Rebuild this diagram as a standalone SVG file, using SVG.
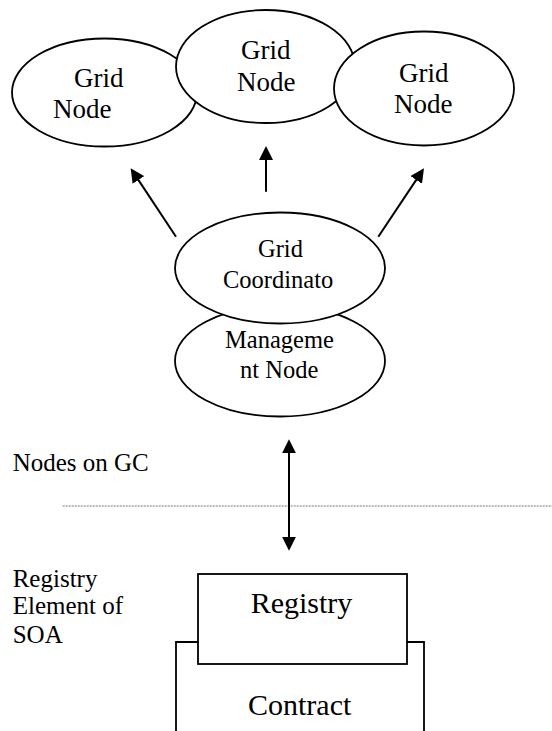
<svg xmlns="http://www.w3.org/2000/svg" width="552" height="731" viewBox="0 0 552 731">
<style>
  .shape { fill: #fff; stroke: #000; stroke-width: 1.8; }
  text { font-family: 'Liberation Serif', 'DejaVu Serif', serif; fill: #000; }
  .big { font-size: 27px; }
  .mid { font-size: 24.5px; }
  .lbl { font-size: 25px; }
  .box { font-size: 30px; }
  .conn { stroke: #000; stroke-width: 2; fill: none; }
</style>
<defs>
  <marker id="ah" viewBox="0 0 14 14" refX="4" refY="7" markerWidth="14" markerHeight="14" markerUnits="userSpaceOnUse" orient="auto-start-reverse">
    <path d="M0,0 L14,7 L0,14 z" fill="#000"/>
  </marker>
</defs>
<rect width="552" height="731" fill="#fff"/>

<g id="grid-node-left">
  <ellipse class="shape" cx="104.5" cy="92.5" rx="92.5" ry="54"/>
  <text class="big" x="74" y="86.7">Grid</text>
  <text class="big" x="53" y="118">Node</text>
</g>
<g id="grid-node-middle">
  <ellipse class="shape" cx="265.5" cy="66.5" rx="89.5" ry="56.5"/>
  <text class="big" x="241" y="59.3">Grid</text>
  <text class="big" x="237" y="90.7">Node</text>
</g>
<g id="grid-node-right">
  <ellipse class="shape" cx="424" cy="88.5" rx="90" ry="57"/>
  <text class="big" x="399" y="81.7">Grid</text>
  <text class="big" x="394" y="113">Node</text>
</g>

<g id="management-node">
  <ellipse class="shape" cx="280" cy="361" rx="105" ry="55.5"/>
  <text class="mid" x="225" y="348.3">Manageme</text>
  <text class="mid" x="240" y="378.3">nt Node</text>
</g>
<g id="grid-coordinator">
  <ellipse class="shape" cx="280" cy="268" rx="105" ry="55.5"/>
  <text class="mid" x="258" y="257">Grid</text>
  <text class="mid" x="223" y="288.3">Coordinato</text>
</g>

<g id="contract">
  <path class="conn" d="M176,731 V642 H424 V731" style="stroke-width:1.8"/>
  <text class="box" x="248" y="715">Contract</text>
</g>
<g id="registry">
  <rect class="shape" x="198" y="574" width="209" height="90"/>
  <text class="box" x="250.7" y="613.3">Registry</text>
</g>

<g id="labels">
  <text class="lbl" x="12.7" y="471">Nodes on GC</text>
  <text class="lbl" x="12.7" y="586.7">Registry</text>
  <text class="lbl" x="12.7" y="614">Element of</text>
  <text class="lbl" x="12.7" y="643.3">SOA</text>
  <line x1="62.7" y1="506" x2="552" y2="506" stroke="#555" stroke-width="0.8" stroke-dasharray="2,1"/>
</g>

<g id="connectors">
  <line class="conn" x1="266" y1="191.7" x2="266" y2="156" marker-end="url(#ah)"/>
  <line class="conn" x1="176" y1="236.7" x2="136.2" y2="176.6" marker-end="url(#ah)"/>
  <line class="conn" x1="378.3" y1="236.7" x2="418.4" y2="176.6" marker-end="url(#ah)"/>
  <line class="conn" x1="289" y1="449.3" x2="289" y2="540.7" marker-start="url(#ah)" marker-end="url(#ah)"/>
</g>
</svg>
